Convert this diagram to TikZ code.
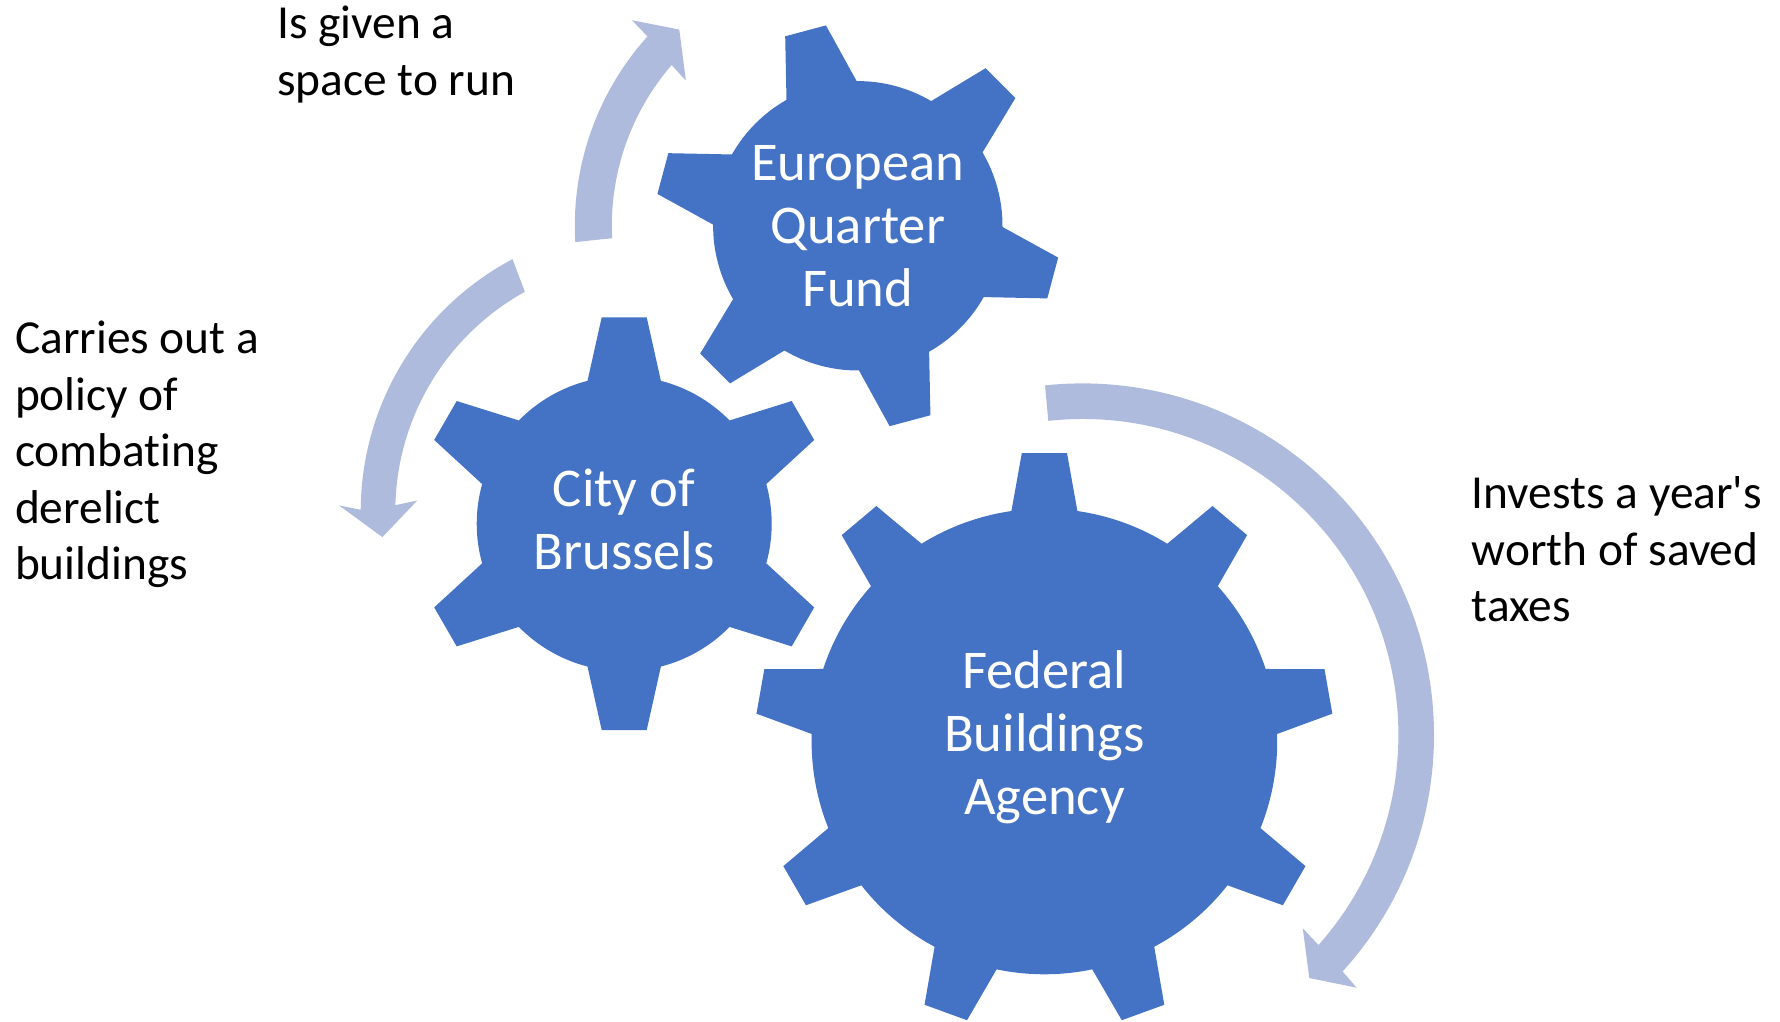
\documentclass[tikz,border=0pt]{standalone}
\usepackage{fontspec}
\setmainfont{Carlito}[Ligatures={TeXOff,CommonOff}]
\usepackage{tikz}

\definecolor{gearblue}{RGB}{68,114,196}
\definecolor{turnblue}{RGB}{175,187,221}

\begin{document}
\begin{tikzpicture}[x=0.5pt, y=0.5pt,
  gear/.style={fill=gearblue},
  turn/.style={fill=turnblue},
  geartext/.style={text=white, align=center, inner sep=0pt, font=\fontsize{27.3}{31.5}\selectfont},
  sidetext/.style={text=black, align=left, inner sep=0pt, anchor=base west, font=\fontsize{23.7}{28.2}\selectfont}]
\useasboundingbox (0,0) rectangle (1780,1021);
\coordinate (eqf) at (857.8,795.2);
\coordinate (cob) at (624.2,497.3);
\coordinate (fba) at (1044.4,279.5);
\coordinate (cobturn) at (646,509.7);
\coordinate (fbaturn) at (1082.4,286);

\foreach \g/\nt/\ang/\rb/\dt/\wt/\wb in {eqf/6/105/144.7/201.8/21.1/36.3, cob/6/90/147.5/206.4/22.5/36.7, fba/9/90/232.8/288.4/22.6/33}{
  \pgfmathsetmacro\gb{asin(\wb/\rb)}
  \pgfmathsetmacro\gt{atan(\wt/\dt)}
  \pgfmathsetmacro\gr{veclen(\dt,\wt)}
  \pgfmathsetmacro\gs{360/\nt}
  \pgfmathtruncatemacro\gn{\nt-1}
  \fill[gear, shift={(\g)}] ({\ang-\gb}:\rb)
    \foreach \k [evaluate=\k as \ta using \ang+\k*\gs] in {0,...,\gn}{
      -- ({\ta-\gt}:\gr) -- ({\ta+\gt}:\gr) -- ({\ta+\gb}:\rb)
      arc[start angle=\ta+\gb, end angle=\ta+\gs-\gb, radius=\rb]
    } -- cycle;
}

\fill[turn, shift={(eqf)}] (182.9:246) arc[start angle=182.9, end angle=139.2, radius=246]
  -- (139.8:225.1) -- (132.3:265.3) -- (137.7:305.5) -- (138.0:283)
  arc[start angle=138.0, end angle=183.3, radius=283] -- cycle;
\fill[turn, shift={(cobturn)}] (118.9:250.7) arc[start angle=118.9, end angle=178.6, radius=250.7]
  -- (177.3:229) -- (185.6:264.9) -- (178.9:307) -- (179.7:285.3)
  arc[start angle=179.7, end angle=117.9, radius=285.3] -- cycle;
\fill[turn, shift={(fbaturn)}] (96.2:316) arc[start angle=96.2, end angle=-41.66, radius=316]
  -- (-41.26:293.1) -- (-46.97:332.5) -- (-42.65:373) -- (-42.27:351.6)
  arc[start angle=-42.27, end angle=96.1, radius=351.6] -- cycle;

\node[geartext] (eqflabel) at (eqf) {European\\Quarter\\Fund};
\node[geartext] (coblabel) at ([yshift=2.2pt]cob) {City of\\Brussels};
\node[geartext] (fbalabel) at ([yshift=2pt]fba) {Federal\\Buildings\\Agency};

\node[sidetext] (fundnote) at (277,925.6) {Is given a\\space to run};
\node[sidetext] (citynote) at (14.7,441.5) {Carries out a\\policy of\\combating\\derelict\\buildings};
\node[sidetext] (agencynote) at (1471.5,399.2) {Invests a year's\\worth of saved\\taxes};
\end{tikzpicture}
\end{document}
